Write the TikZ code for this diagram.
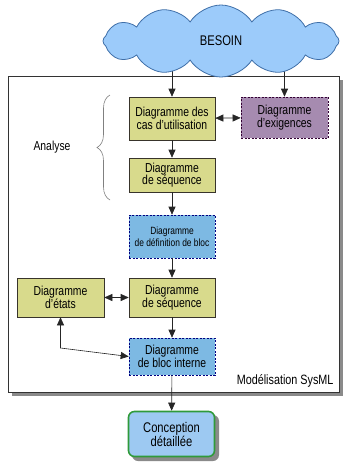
\documentclass[tikz,border=0pt]{standalone}
\usepackage{fontspec}
\setmainfont{Liberation Sans}[FakeStretch=0.8]
\usetikzlibrary{arrows.meta,shapes.symbols,decorations.pathreplacing,backgrounds}
\definecolor{boxyellow}{HTML}{D8DA8C}
\definecolor{boxpurple}{HTML}{A68BB0}
\definecolor{boxblue}{HTML}{7DB9E3}
\definecolor{cloudblue}{HTML}{9CCBFA}
\definecolor{cloudedge}{HTML}{3F6FA8}
\definecolor{finalblue}{HTML}{9DC9F2}
\definecolor{finalgreen}{HTML}{2F9A3A}
\definecolor{shadowgray}{HTML}{8A8A8A}
\tikzset{
  diag/.style={line width=0.6pt, minimum width=86pt, align=center, inner sep=2pt,
    font=\fontsize{13}{12.5}\selectfont},
  yellowbox/.style={diag, fill=boxyellow, draw=black!80!olive},
  purplebox/.style={diag, fill=boxpurple, draw=black!60!violet, dash pattern=on 2pt off 1.5pt},
  bluebox/.style={diag, fill=boxblue, draw=black!50!blue, dash pattern=on 2pt off 1.5pt},
  tip/.tip={Triangle[length=8pt,width=7pt]},
  link/.style={draw=black!85, line width=0.6pt, -tip},
  twoway/.style={draw=black!85, line width=0.6pt, tip-tip},
}
\begin{document}
\begin{tikzpicture}[x=1pt,y=1pt]
\useasboundingbox (0,0) rectangle (345,-464);

% boxes of the SysML frame
\node[yellowbox, minimum height=43pt] (uc) at (172,-118.5) {Diagramme des\\cas d'utilisation};
\node[purplebox, minimum width=87pt, minimum height=41pt] (req) at (284.5,-117.5) {Diagramme\\d'exigences};
\node[yellowbox, minimum height=34pt] (seqa) at (172,-175) {Diagramme\\de séquence};
\node[bluebox, minimum height=43pt, font=\fontsize{10.5}{12.5}\selectfont] (bdd) at (172,-236.5) {Diagramme\\de définition de bloc};
\node[yellowbox, minimum height=39pt] (seqb) at (172,-297.5) {Diagramme\\de séquence};
\node[yellowbox, minimum width=87pt, minimum height=39pt] (etats) at (60.5,-297.5) {Diagramme\\d'états};
\node[bluebox, minimum height=37pt] (ibd) at (172,-356.5) {Diagramme\\de bloc interne};

% detailed design box with its shadow
\fill[shadowgray, rounded corners=6pt] (132,-415) rectangle (219,-461);
\node[draw=finalgreen, line width=1.6pt, fill=finalblue, rounded corners=6pt,
  minimum width=86pt, minimum height=45pt, align=center,
  font=\fontsize{14}{14}\selectfont] (conc) at (171.5,-434) {Conception\\détaillée};

% need cloud
\node[cloud, cloud puffs=12, cloud puff arc=115, cloud ignores aspect,
  minimum width=236pt, minimum height=72pt, fill=cloudblue, draw=cloudedge,
  line width=0.8pt, font=\fontsize{14}{14}\selectfont] (besoin) at (221,-41) {BESOIN};

\coordinate (bend) at (60.5,-348);

\begin{scope}[on background layer]
  % SysML frame with shadow
  \fill[shadowgray] (12,-80) rectangle (343,-396);
  \draw[fill=white, draw=black!80, line width=0.7pt] (8,-76) rectangle (339,-392);
  \draw[link] (besoin.center -| uc) -- (uc);
  \draw[link] (besoin.center -| req) -- (req);
\end{scope}

\draw[twoway] (uc) -- (req);
\draw[link] (uc) -- (seqa);
\draw[link] (seqa) -- (bdd);
\draw[link] (bdd) -- (seqb);
\draw[twoway] (etats) -- (seqb);
\draw[link] (seqb) -- (ibd);
\draw[twoway] (etats.south) -- (bend) -- (ibd.west);
\draw[link] (ibd) -- (conc);

% analysis brace and labels
\draw[gray, line width=0.6pt, decorate, decoration={brace, amplitude=13pt}] (110,-200) -- (110,-95);
\node[font=\fontsize{13}{13}\selectfont] (analyse) at (52,-147) {Analyse};
\node[anchor=east, font=\fontsize{13.5}{13.5}\selectfont] (sysml) at (337,-381) {Modélisation SysML};
\end{tikzpicture}
\end{document}
